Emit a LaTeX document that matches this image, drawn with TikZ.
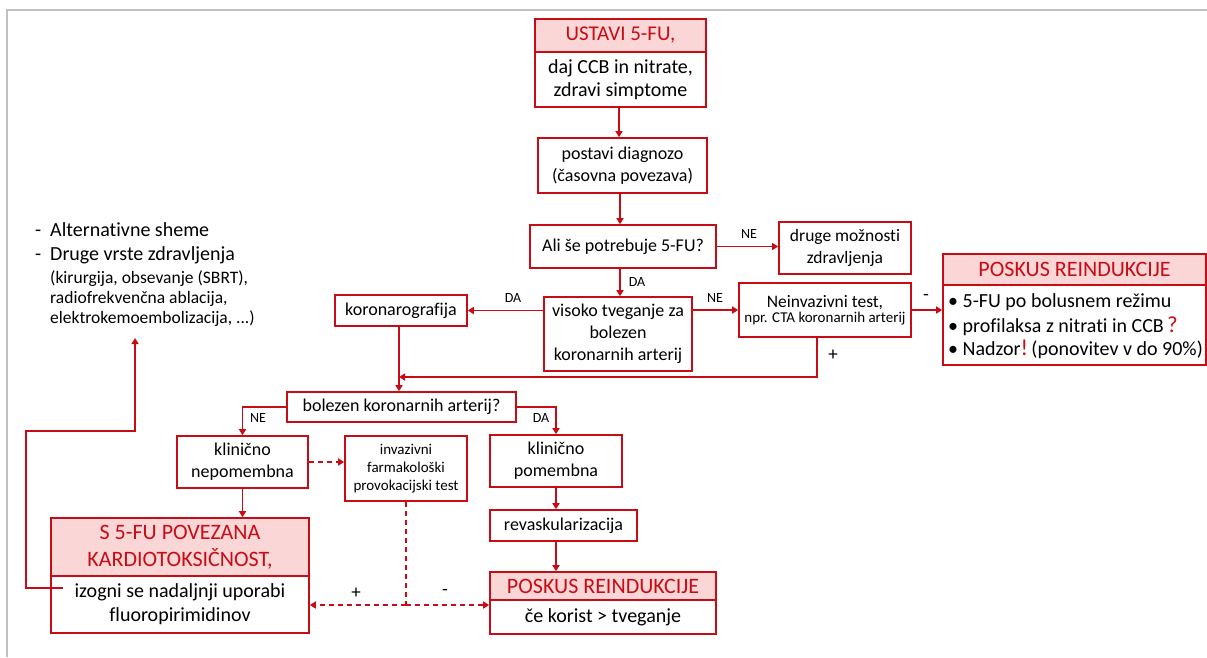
\documentclass[tikz,border=0pt]{standalone}
\usepackage{fontspec}
\setmainfont{Carlito}[Ligatures=NoCommon]
\usetikzlibrary{arrows.meta}
\definecolor{tred}{RGB}{200,12,22}
\definecolor{tpink}{RGB}{250,214,214}
\definecolor{fgray}{RGB}{192,192,192}
\newcommand{\fsz}[2]{\fontsize{#1}{#2}\selectfont}
\begin{document}
\begin{tikzpicture}[x=1pt,y=1pt,
 box/.style={draw=tred, line width=1.6pt, fill=white, align=center, inner sep=0pt, text=black},
 hdr/.style={box, fill=tpink, text=tred},
 arr/.style={draw=tred, line width=1.6pt, -{Triangle[width=7pt,length=6pt]}},
 ln/.style={draw=tred, line width=1.6pt},
 dsh/.style={arr, dash pattern=on 5pt off 4pt},
 dln/.style={ln, dash pattern=on 5pt off 4pt},
 lbl/.style={font=\fsz{14}{16}, inner sep=0pt},
 pm/.style={font=\fsz{19}{20}, inner sep=0pt},
 txt/.style={inner sep=0pt, anchor=base west}]

\useasboundingbox (0,0) rectangle (1207,-657);
\fill[white] (0,0) rectangle (1207,-657);
\draw[fgray, line width=2pt] (7,-657) -- (7,-10) -- (1207,-10);

% top chain
\node[hdr, minimum width=171, minimum height=33, font=\fsz{21}{24}] (ustH) at (620.5,-35.5) {USTAVI 5-FU,};
\node[box, minimum width=171, minimum height=55, font=\fsz{20}{23}] (ustB) at (620.5,-79.5) {daj CCB in nitrate,\\zdravi simptome};
\node[box, minimum width=169, minimum height=55, font=\fsz{18}{21.5}] (diag) at (622.5,-165.5) {postavi diagnozo\\(časovna povezava)};
\node[box, minimum width=186, minimum height=43, font=\fsz{18}{21}] (ali) at (623,-246.5) {Ali še potrebuje 5-FU?};
\node[box, minimum width=132, minimum height=52, font=\fsz{17.5}{22}] (druge) at (845,-248) {druge možnosti\\zdravljenja};
\node[box, minimum width=148, minimum height=74, font=\fsz{18}{22}] (visoko) at (618,-334) {visoko tveganje za\\bolezen\\koronarnih arterij};
\node[box, minimum width=132, minimum height=31, font=\fsz{18}{21}] (koro) at (401,-310.5) {koronarografija};
\node[box, minimum width=172, minimum height=54] (neinv) at (825,-310) {{\fsz{17.5}{20}Neinvazivni test,}\\[1pt]{\fsz{15}{18}npr. CTA koronarnih arterij}};

% right reinduction box
\node[hdr, minimum width=263, minimum height=31, font=\fsz{22}{24}] (prH) at (1074.5,-269.5) {POSKUS REINDUKCIJE};
\node[box, minimum width=263, minimum height=80] (prB) at (1074.5,-325) {};
\node[txt, font=\fsz{20}{24}] (pr1) at (948,-307) {• 5-FU po bolusnem režimu};
\node[txt, font=\fsz{20}{24}] (pr2) at (948,-332) {• profilaksa z nitrati in CCB\,{\color{tred}\fsz{23}{24}?}};
\node[txt, font=\fsz{20}{24}] (pr3) at (948,-355) {• Nadzor{\color{tred}\fsz{23}{24}!}\,(ponovitev v do 90\%)};

% middle
\node[box, minimum width=229, minimum height=30, font=\fsz{18}{21}] (bol) at (401.5,-407) {bolezen koronarnih arterij?};
\node[box, minimum width=131, minimum height=52, font=\fsz{18}{22}] (klnep) at (242.5,-462) {klinično\\nepomembna};
\node[box, minimum width=122, minimum height=65, font=\fsz{15}{18}] (inv) at (406,-468.5) {invazivni\\farmakološki\\provokacijski test};
\node[box, minimum width=132, minimum height=52, font=\fsz{18}{22}] (klpom) at (556,-461) {klinično\\pomembna};
\node[box, minimum width=147, minimum height=31, font=\fsz{18}{21}] (revask) at (563.5,-525.5) {revaskularizacija};

% bottom boxes
\node[hdr, minimum width=226, minimum height=28, font=\fsz{22}{24}] (pbH) at (603,-586) {POSKUS REINDUKCIJE};
\node[box, minimum width=226, minimum height=34, font=\fsz{20}{23}] (pbB) at (603,-617) {če korist > tveganje};
\node[hdr, minimum width=258, minimum height=58, font=\fsz{22}{27}] (sfH) at (180,-547) {S 5-FU POVEZANA\\KARDIOTOKSIČNOST,};
\node[box, minimum width=258, minimum height=57, font=\fsz{20}{24}] (sfB) at (180,-604.5) {izogni se nadaljnji uporabi\\fluoropirimidinov};

% left text
\node[txt, font=\fsz{20}{24}] (a1d) at (35,-236) {-};
\node[txt, font=\fsz{20}{24}] (a1) at (50,-236) {Alternativne sheme};
\node[txt, font=\fsz{20}{24}] (a2d) at (35,-260) {-};
\node[txt, font=\fsz{20}{24}] (a2) at (50,-260) {Druge vrste zdravljenja};
\node[txt, font=\fsz{17.5}{21}] (a3) at (50,-283) {(kirurgija, obsevanje (SBRT),};
\node[txt, font=\fsz{17.5}{21}] (a4) at (50,-303) {radiofrekvenčna ablacija,};
\node[txt, font=\fsz{17.5}{21}] (a5) at (50,-323) {elektrokemoembolizacija, ...)};

% connectors
\draw[arr] (ustB.south -| 619,0) -- (diag.north -| 619,0);
\draw[arr] (diag.south -| 620,0) -- (ali.north -| 620,0);
\draw[arr] (ali.south -| 620,0) -- (visoko.north -| 620,0);
\draw[arr] (ali.east) -- (druge.west |- ali.east);
\draw[arr] (visoko.west |- koro.east) -- (koro.east);
\draw[arr] (visoko.east |- neinv.west) -- (neinv.west);
\draw[arr] (neinv.east) -- (prB.west |- neinv.east);
\coordinate (j1) at (399,-377);
\draw[arr] ([xshift=-8pt]neinv.south) |- (j1);
\draw[arr] (koro.south -| 399,0) -- (bol.north -| 399,0);
\draw[arr] (bol.west) -| (klnep.north);
\draw[arr] (bol.east) -| (klpom.north);
\draw[dsh] (klnep.east) -- (inv.west |- klnep.east);
\draw[arr] (klnep.south) -- (klnep.south |- sfH.north);
\draw[arr] (klpom.south) -- (klpom.south |- revask.north);
\draw[arr] (klpom.south |- revask.south) -- (klpom.south |- pbH.north);
\coordinate (d1) at (406,-605);
\draw[dln] (inv.south) -- (d1);
\draw[dsh] (d1) -- (sfB.east |- d1);
\draw[dsh] (d1) -- (pbB.west |- d1);
\coordinate (s0) at (63,-588);
\coordinate (alt) at (135,-338);
\draw[arr] (s0) -- (26,-588) -- (26,-431) -- (135,-431) -- (alt);

% labels
\node[lbl] (l1) at (749,-234) {NE};
\node[lbl] (l2) at (637,-282) {DA};
\node[lbl] (l3) at (513,-298) {DA};
\node[lbl] (l4) at (715,-298) {NE};
\node[pm] (l5) at (926,-297) {-};
\node[pm] (l6) at (833,-355) {+};
\node[lbl] (l7) at (258,-418) {NE};
\node[lbl] (l8) at (541,-418) {DA};
\node[pm] (l9) at (356,-593) {+};
\node[pm] (l10) at (445,-592) {-};
\end{tikzpicture}
\end{document}
